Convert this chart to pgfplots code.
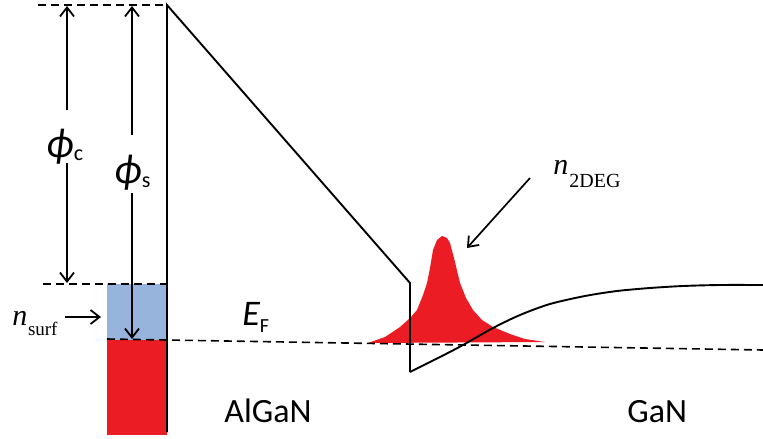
\documentclass[border=0pt]{standalone}
\usepackage{pgfplots}
\pgfplotsset{compat=1.18}
\usepackage{fontspec}
\setmainfont{Liberation Serif}
\newfontfamily\calibri{Carlito}
\usetikzlibrary{arrows.meta}
\definecolor{surfblue}{RGB}{150,180,220}
\definecolor{deepred}{RGB}{236,28,36}
\tikzset{barb/.tip={Straight Barb[length=4.5pt,width=7pt,line width=0.9pt]}}
\begin{document}
\begin{tikzpicture}
\begin{axis}[width=381.5pt,height=219pt,scale only axis,
  xmin=0,xmax=763,ymin=0,ymax=438,y dir=reverse,hide axis,clip=false]
% surface states
\addplot[fill=surfblue,draw=none] coordinates {(107,284)(167,284)(167,340)(107,340)} --cycle;
\addplot[fill=deepred,draw=none] coordinates {(107,340)(167,340)(167,435)(107,435)} --cycle;
% 2DEG distribution
\addplot[fill=deepred,draw=none] coordinates {
 (368,343)(385,337)(400,327)(410,318)(417,310)(423,295)(427,283)(430,268)(433,250)(437,240)(442,236)
 (447,238)(450,243)(454,258)(460,283)(466,298)(473,310)(482,320)(493,327)(510,334)(525,339)(545,342)} --cycle;
% dashed reference lines
\addplot[black,line width=0.8pt,dash pattern=on 4pt off 2.5pt] coordinates {(38,5)(167,5)};
\addplot[black,line width=0.8pt,dash pattern=on 4pt off 2.5pt] coordinates {(43,284)(167,284)};
\addplot[black,line width=0.8pt,dash pattern=on 4pt off 2.5pt] coordinates {(107,339)(763,350)};
% conduction band
\addplot[black,line width=0.95pt] coordinates {(167,432)(167,5)(410,283)(410,372)};
\addplot[black,line width=0.95pt,smooth,tension=0.5] coordinates {
 (410,372)(440,357)(463,345)(493,328)(520,315)(550,304)(585,296)(617,291)(650,288)(683,286)(720,285)(763,285)};
% arrows
\draw[line width=0.85pt,barb-] (axis cs:67,6) -- (axis cs:67,110);
\draw[line width=0.85pt,-barb] (axis cs:67,163) -- (axis cs:67,283);
\draw[line width=0.85pt,barb-] (axis cs:132,6) -- (axis cs:132,135);
\draw[line width=0.85pt,-barb] (axis cs:132,193) -- (axis cs:132,339);
\draw[line width=1pt,-barb] (axis cs:65,317) -- (axis cs:101,317);
\draw[line width=0.85pt,-barb] (axis cs:530,178) -- (axis cs:467,248);
% labels
\node[anchor=base west,inner sep=0pt] at (axis cs:46,157) {\calibri\fontsize{21}{21}\selectfont\itshape ϕ\raisebox{-1.5pt}{\upshape\fontsize{11}{11}\selectfont c}};
\node[anchor=base west,inner sep=0pt] at (axis cs:114,184) {\calibri\fontsize{21}{21}\selectfont\itshape ϕ\raisebox{-1.5pt}{\upshape\fontsize{11}{11}\selectfont s}};
\node[anchor=base west,inner sep=0pt] at (axis cs:12,325) {\fontsize{15}{15}\selectfont\itshape n\kern0.3pt\raisebox{-5pt}{\upshape\fontsize{9.5}{9.5}\selectfont surf}};
\node[anchor=base west,inner sep=0pt] at (axis cs:553,175) {\fontsize{15}{15}\selectfont\itshape n\kern0.5pt\raisebox{-6pt}{\upshape\fontsize{10}{10}\selectfont 2DEG}};
\node[anchor=base west,inner sep=0pt] at (axis cs:242,325) {\calibri\fontsize{18}{18}\selectfont\itshape E\raisebox{-3.5pt}{\upshape\fontsize{10}{10}\selectfont F}};
\node[anchor=base west,inner sep=0pt] at (axis cs:224,422) {\calibri\fontsize{17}{17}\selectfont AlGaN};
\node[anchor=base west,inner sep=0pt] at (axis cs:627,422) {\calibri\fontsize{17}{17}\selectfont GaN};
\end{axis}
\pgfresetboundingbox
\path (current axis.south west) rectangle (current axis.north east);
\end{tikzpicture}
\end{document}
